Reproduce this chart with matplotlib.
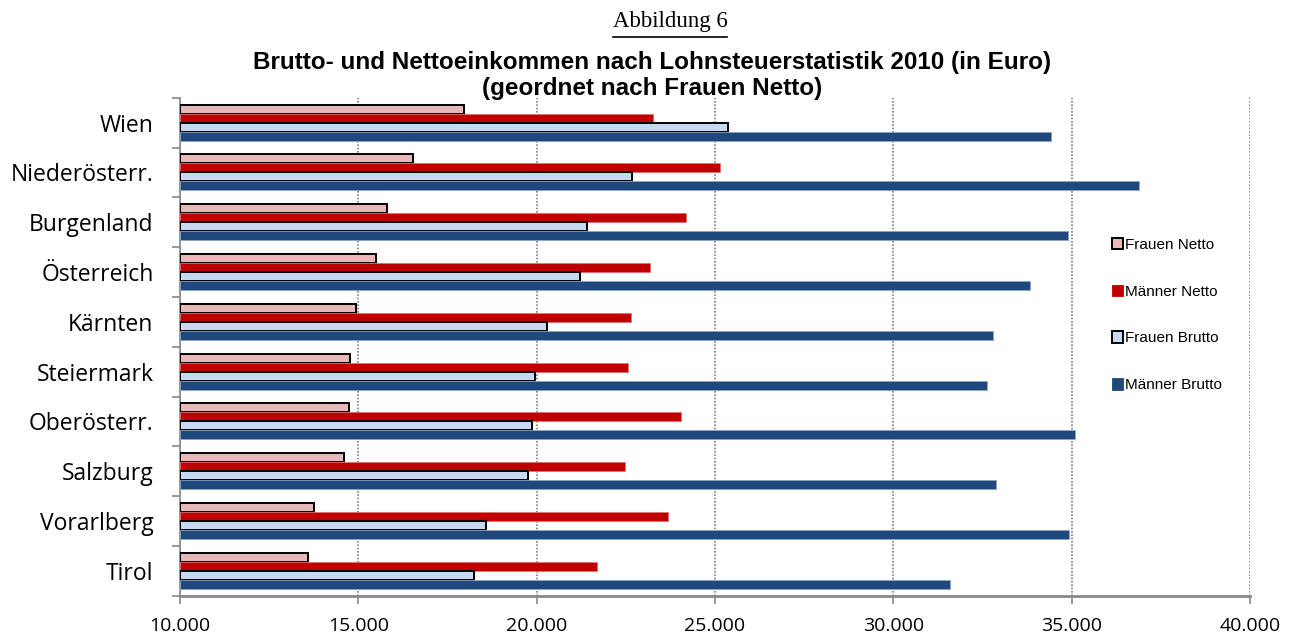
import matplotlib
matplotlib.use("Agg")
import matplotlib.pyplot as plt
import numpy as np
from matplotlib.patches import Patch
from matplotlib.ticker import FixedLocator, FuncFormatter

categories = ["Wien", "Niederösterr.", "Burgenland", "Österreich", "Kärnten",
              "Steiermark", "Oberösterr.", "Salzburg", "Vorarlberg", "Tirol"]
frauen_netto = [17958, 16519, 15790, 15502, 14929, 14761, 14733, 14585, 13752, 13583]
maenner_netto = [23258, 25136, 24183, 23165, 22641, 22548, 24042, 22483, 23670, 21698]
frauen_brutto = [25352, 22680, 21407, 21210, 20285, 19960, 19856, 19763, 18566, 18230]
maenner_brutto = [34428, 36900, 34885, 33840, 32791, 32634, 35090, 32867, 34914, 31596]
x_ticks = [10000, 15000, 20000, 25000, 30000, 35000, 40000]

series = [
    ("Frauen Netto", frauen_netto, "#E6B9B8", "black", 1.4),
    ("Männer Netto", maenner_netto, "#C00000", "#E07070", 0.6),
    ("Frauen Brutto", frauen_brutto, "#C6D9F1", "black", 1.4),
    ("Männer Brutto", maenner_brutto, "#1F497D", "#8EA6C4", 0.6),
]

fig = plt.figure(figsize=(13.04, 6.44), dpi=100)
ax = fig.add_axes([180/1304, 1-595.7/644, 1070/1304, 498/644])

y = np.arange(len(categories))
h = 0.18
offsets = [-0.27, -0.09, 0.09, 0.27]
handles = []
for (name, vals, fc, ec, lw), off in zip(series, offsets):
    widths = [v - x_ticks[0] for v in vals]
    ax.barh(y + off, widths, left=x_ticks[0], height=h, color=fc,
            edgecolor=ec, linewidth=lw, zorder=3)
    handles.append(Patch(facecolor=fc, edgecolor=ec if lw > 1 else fc, linewidth=lw, label=name))

ax.set_xlim(x_ticks[0], x_ticks[-1])
ax.set_ylim(len(categories) - 0.5, -0.5)
ax.set_xticks(x_ticks)
ax.xaxis.set_major_formatter(FuncFormatter(lambda v, p: f"{int(v):,}".replace(",", ".")))
ax.grid(axis="x", linestyle=(0, (1.0, 1.0)), color="#808080", linewidth=1.2, zorder=0)

ax.set_yticks(y)
ax.set_yticklabels(categories)
ax.yaxis.set_minor_locator(FixedLocator(np.arange(-0.5, len(categories) + 0.5, 1.0)))
ax.tick_params(axis="y", which="major", length=0, pad=19, labelsize=16.5)
ax.tick_params(axis="y", which="minor", length=6, color="#888888", width=1.2)
ax.tick_params(axis="x", which="major", length=6, color="#888888", width=1.2,
               pad=9, labelsize=14)
for lab in ax.get_xticklabels() + ax.get_yticklabels():
    lab.set_fontfamily("Open Sans")

for s in ["top", "right"]:
    ax.spines[s].set_visible(False)
ax.spines["left"].set_color("#888888")
ax.spines["left"].set_linewidth(1.2)
ax.spines["bottom"].set_color("#888888")
ax.spines["bottom"].set_linewidth(2.0)

leg = fig.legend(handles=handles, loc="center left",
                 bbox_to_anchor=(1101/1304, 1-315/644), frameon=True,
                 facecolor="white", edgecolor="none", framealpha=1.0,
                 prop={"family": "Liberation Sans", "size": 11},
                 handlelength=0.75, handleheight=0.75, handletextpad=0.15,
                 labelspacing=2.15, borderpad=0.2)

fig.text(670/1304, 1-22/644, "Abbildung 6", ha="center", va="center",
         fontsize=16.5, family="Liberation Serif")
fig.add_artist(plt.Line2D([613/1304, 727/1304], [1-37/644, 1-37/644], color="black", linewidth=1.2))
fig.text(0.5, 1-62/644, "Brutto- und Nettoeinkommen nach Lohnsteuerstatistik 2010 (in Euro)",
         ha="center", va="center", fontsize=17.5, fontweight="bold", family="Liberation Sans")
fig.text(0.5, 1-88/644, "(geordnet nach Frauen Netto)",
         ha="center", va="center", fontsize=17.5, fontweight="bold", family="Liberation Sans")

fig.savefig("out.png", dpi=100)
